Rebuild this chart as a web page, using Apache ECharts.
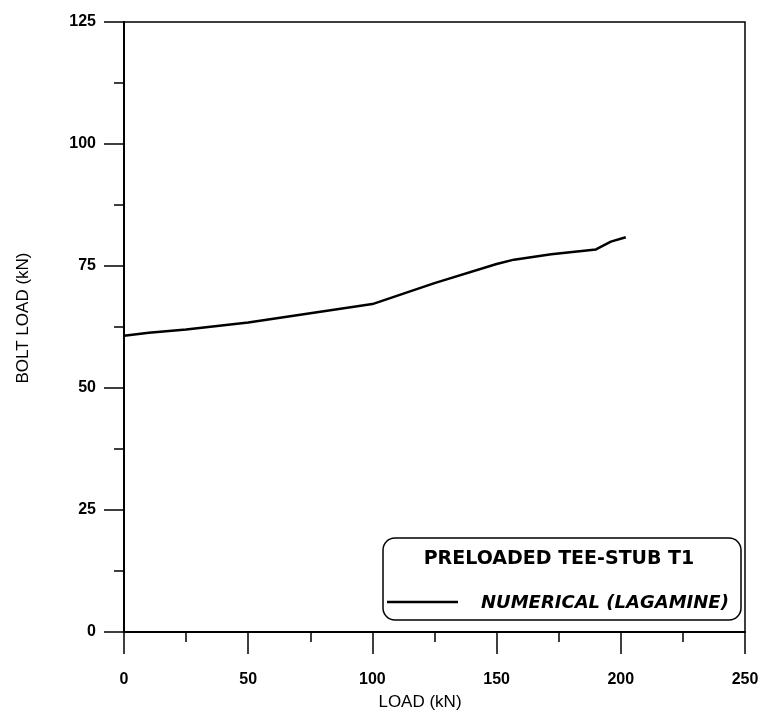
<!DOCTYPE html>
<html>
<head>
<meta charset="utf-8">
<script src="https://cdn.jsdelivr.net/npm/echarts@6/dist/echarts.min.js"></script>
<style>html,body{margin:0;padding:0;background:#fff;}#c{width:764px;height:713px;}</style>
</head>
<body>
<div id="c"></div>
<script>
var loadKN = [0, 10, 25, 50, 75, 100, 125, 150, 157, 172, 190, 196, 202];
var boltLoadKN = [60.7, 61.3, 62.0, 63.4, 65.3, 67.2, 71.5, 75.4, 76.3, 77.4, 78.4, 80.0, 80.9];
var seriesName = 'NUMERICAL (LAGAMINE)';
var legendTitle = 'PRELOADED TEE-STUB T1';
var xTitle = 'LOAD (kN)';
var yTitle = 'BOLT LOAD (kN)';

var chart = echarts.init(document.getElementById('c'), null, {renderer: 'canvas'});
var pts = loadKN.map(function (x, i) { return [x, boltLoadKN[i]]; });
var axisFont = {fontFamily: '"Liberation Sans", Arial, sans-serif', fontSize: 16, fontWeight: 'bold', color: '#000'};

chart.setOption({
  animation: false,
  backgroundColor: '#fff',
  grid: {left: 124, right: 19, top: 22, bottom: 81, show: true, borderColor: '#000', borderWidth: 1.5, backgroundColor: 'transparent'},
  xAxis: {
    type: 'value', min: 0, max: 250, interval: 50,
    axisLine: {show: true, onZero: false, lineStyle: {color: '#000', width: 2}},
    axisTick: {show: true, inside: false, length: 22, lineStyle: {color: '#000', width: 1.5}},
    minorTick: {show: true, splitNumber: 2, length: 10, lineStyle: {color: '#000', width: 1.5}},
    splitLine: {show: false},
    axisLabel: Object.assign({margin: 40}, axisFont)
  },
  yAxis: {
    type: 'value', min: 0, max: 125, interval: 25,
    axisLine: {show: true, onZero: false, lineStyle: {color: '#000', width: 2}},
    axisTick: {show: true, inside: false, length: 20, lineStyle: {color: '#000', width: 1.5}},
    minorTick: {show: true, splitNumber: 2, length: 10, lineStyle: {color: '#000', width: 1.5}},
    splitLine: {show: false},
    axisLabel: Object.assign({margin: 28}, axisFont)
  },
  series: [{
    name: seriesName, type: 'line', data: pts, showSymbol: false, smooth: false,
    lineStyle: {color: '#000', width: 2.5}
  }],
  graphic: [
    {type: 'text', x: 420, y: 702, style: {text: xTitle, fill: '#000', font: '17px "Liberation Sans", Arial, sans-serif', textAlign: 'center', textVerticalAlign: 'middle'}},
    {type: 'text', x: 23, y: 318, rotation: Math.PI / 2, style: {text: yTitle, fill: '#000', font: '17px "Liberation Sans", Arial, sans-serif', textAlign: 'center', textVerticalAlign: 'middle'}},
    {type: 'rect', shape: {x: 383, y: 538, width: 358, height: 82, r: 12}, style: {fill: '#fff', stroke: '#000', lineWidth: 1.5}},
    {type: 'text', x: 559, y: 559, style: {text: legendTitle, fill: '#000', font: 'bold 19px "DejaVu Sans", sans-serif', textAlign: 'center', textVerticalAlign: 'middle'}},
    {type: 'line', shape: {x1: 387, y1: 602, x2: 458, y2: 602}, style: {stroke: '#000', lineWidth: 2.5}},
    {type: 'text', x: 481, y: 603, style: {text: seriesName, fill: '#000', font: 'italic bold 18px "DejaVu Sans", sans-serif', textAlign: 'left', textVerticalAlign: 'middle'}}
  ]
});
</script>
</body>
</html>
